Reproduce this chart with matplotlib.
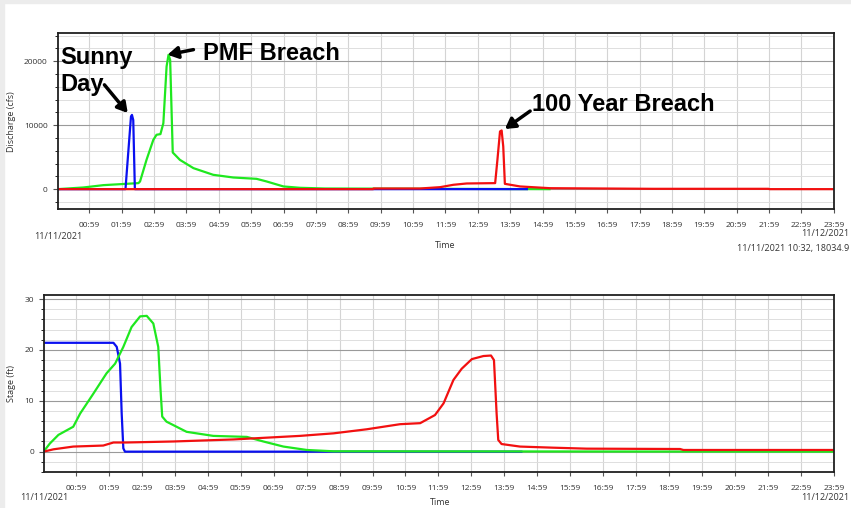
import matplotlib.pyplot as plt
from matplotlib.ticker import MultipleLocator, FixedLocator

# hours since 11/11/2021 00:00
pmf_q_t = [0.0, 0.8, 1.42, 2.50, 2.55, 2.75, 2.96, 3.06, 3.18, 3.27, 3.37, 3.43, 3.48, 3.56,
           3.78, 4.2, 4.81, 5.43, 6.15, 6.46, 6.98, 7.49, 8.26, 15.2]
pmf_q = [0, 260, 625, 940, 1200, 4580, 7700, 8500, 8600, 10300, 19170, 21000, 20200, 5730,
         4580, 3280, 2240, 1820, 1610, 1200, 420, 210, 100, 0]

sunny_q_t = [0.0, 2.10, 2.27, 2.30, 2.34, 2.39, 14.5]
sunny_q = [0, 0, 11350, 11600, 10800, 0, 0]

yr100_q_t = [0.0, 9.75, 9.76, 11.2, 11.82, 12.23, 12.64, 13.52, 13.59, 13.67, 13.72, 13.77,
             13.82, 14.29, 15.21, 18.4, 21.96, 22.0, 24.0]
yr100_q = [0, 0, 100, 100, 310, 680, 885, 940, 4580, 9010, 9170, 6670,
           830, 420, 150, 50, 50, 0, 0]

pmf_s_t = [0.0, 0.19, 0.45, 0.90, 1.11, 1.51, 1.91, 2.17, 2.42, 2.67, 2.93, 3.13, 3.33, 3.48,
           3.55, 3.60, 3.73, 4.34, 5.15, 6.17, 6.67, 7.28, 7.99, 8.80, 24.0]
pmf_s = [0, 1.6, 3.3, 4.9, 7.5, 11.4, 15.4, 17.3, 20.6, 24.5, 26.6, 26.7, 25.2, 20.6,
         12.1, 6.9, 5.9, 3.9, 3.1, 2.9, 2.0, 1.0, 0.33, 0.07, 0.0]

sunny_s_t = [0.0, 2.12, 2.22, 2.32, 2.37, 2.42, 2.47, 14.5]
sunny_s = [21.4, 21.4, 20.6, 17.3, 7.5, 0.65, 0.0, 0.0]

yr100_s_t = [0.0, 0.3, 0.9, 1.81, 2.12, 2.5, 3.94, 5.76, 7.78, 8.80, 9.81, 10.82, 11.43,
             11.88, 12.14, 12.44, 12.69, 13.0, 13.35, 13.58, 13.67, 13.75, 13.80, 13.90,
             14.46, 15.47, 16.48, 19.32, 19.42, 24.0]
yr100_s = [0, 0.46, 1.0, 1.2, 1.8, 1.8, 2.0, 2.4, 3.1, 3.6, 4.4, 5.4, 5.6,
           7.2, 9.5, 14.1, 16.3, 18.2, 18.8, 18.9, 18.0, 7.5, 2.3, 1.5,
           1.0, 0.78, 0.59, 0.52, 0.33, 0.33]

tick_hours = [h + 59 / 60 for h in range(24)]
tick_labels = [f"{h:02d}:59" for h in range(24)]

GREEN = '#1fe81f'
BLUE = '#0a10f0'
RED = '#f21010'
TXT = '#333333'

plt.rcParams['font.family'] = ['Open Sans', 'DejaVu Sans']

fig = plt.figure(figsize=(8.51, 5.08), dpi=100)
W, H = 851, 508


def style_axes(ax, ymin, ymax, major, minor):
    ax.set_xlim(0, 24)
    ax.set_ylim(ymin, ymax)
    ax.xaxis.set_major_locator(FixedLocator(tick_hours))
    ax.set_xticklabels(tick_labels)
    ax.yaxis.set_major_locator(MultipleLocator(major))
    ax.yaxis.set_minor_locator(MultipleLocator(minor))
    ax.grid(True, axis='x', color='#d4d4d4', lw=0.8)
    ax.grid(True, axis='y', which='major', color='#9a9a9a', lw=0.8)
    ax.grid(True, axis='y', which='minor', color='#dedede', lw=0.7)
    ax.tick_params(axis='both', labelsize=6, colors='#555555', labelcolor=TXT)
    ax.tick_params(axis='x', length=3, pad=6)
    ax.tick_params(axis='y', which='minor', length=2)
    for s in ax.spines.values():
        s.set_linewidth(1.3)
        s.set_color('#202020')


ax1 = fig.add_axes([57.5 / W, (H - 209.3) / H, (834.4 - 57.5) / W, (209.3 - 33) / H])
style_axes(ax1, -3150, 24400, 10000, 2000)
ax1.plot(pmf_q_t, pmf_q, color=GREEN, lw=1.6)
ax1.plot(sunny_q_t, sunny_q, color=BLUE, lw=1.6)
ax1.plot(yr100_q_t, yr100_q, color=RED, lw=1.6)
ax1.set_ylabel('Discharge (cfs)', fontsize=6.5, color=TXT, labelpad=6)

ax2 = fig.add_axes([43.6 / W, (H - 472) / H, (834.3 - 43.6) / W, (472 - 295) / H])
style_axes(ax2, -4.0, 30.8, 10, 2)
ax2.plot(sunny_s_t, sunny_s, color=BLUE, lw=1.6)
ax2.plot(pmf_s_t, pmf_s, color=GREEN, lw=1.6)
ax2.plot(yr100_s_t, yr100_s, color=RED, lw=1.6)
ax2.set_ylabel('Stage (ft)', fontsize=6.5, color=TXT, labelpad=6)

# date / status captions
small = dict(fontsize=6.5, color=TXT)
fig.text(58 / W, 1 - 236 / H, '11/11/2021', ha='center', va='center', **small)
fig.text(445 / W, 1 - 245 / H, 'Time', ha='center', va='center', **small)
fig.text(849 / W, 1 - 233 / H, '11/12/2021', ha='right', va='center', **small)
fig.text(849 / W, 1 - 248 / H, '11/11/2021 10:32, 18034.9', ha='right', va='center', **small)
fig.text(44 / W, 1 - 497 / H, '11/11/2021', ha='center', va='center', **small)
fig.text(849 / W, 1 - 497 / H, '11/12/2021', ha='right', va='center', **small)
fig.text(440 / W, 1 / H, 'Time', ha='center', va='bottom', **small)

# annotations
big = dict(fontsize=17, fontweight='bold', family=['Liberation Sans', 'DejaVu Sans'],
           color='black')
arrow = dict(arrowstyle='-|>,head_length=0.6,head_width=0.35', color='black', lw=2.5,
             shrinkA=0, shrinkB=0)
ax1.annotate('Sunny\nDay', xy=(2.17, 11900), xytext=(0.09, 18500), textcoords='data',
             ha='left', va='center', linespacing=1.2, **big)
ax1.annotate('', xy=(2.17, 11900), xytext=(1.45, 16300), arrowprops=arrow)
ax1.annotate('PMF Breach', xy=(3.4, 21000), xytext=(4.49, 21200), ha='left', va='center', **big)
ax1.annotate('', xy=(3.4, 21000), xytext=(4.2, 21800), arrowprops=arrow)
ax1.annotate('100 Year Breach', xy=(13.82, 9400), xytext=(14.65, 13200), ha='left',
             va='center', **big)
ax1.annotate('', xy=(13.82, 9400), xytext=(14.6, 12200), arrowprops=arrow)

# light window border
fig.patches.append(plt.Rectangle((0, 0), 4 / W, 1, transform=fig.transFigure,
                                 color='#ececec', zorder=-1))
fig.patches.append(plt.Rectangle((0, 1 - 3 / H), 1, 3 / H, transform=fig.transFigure,
                                 color='#ececec', zorder=-1))

fig.savefig('out.png', dpi=100)
